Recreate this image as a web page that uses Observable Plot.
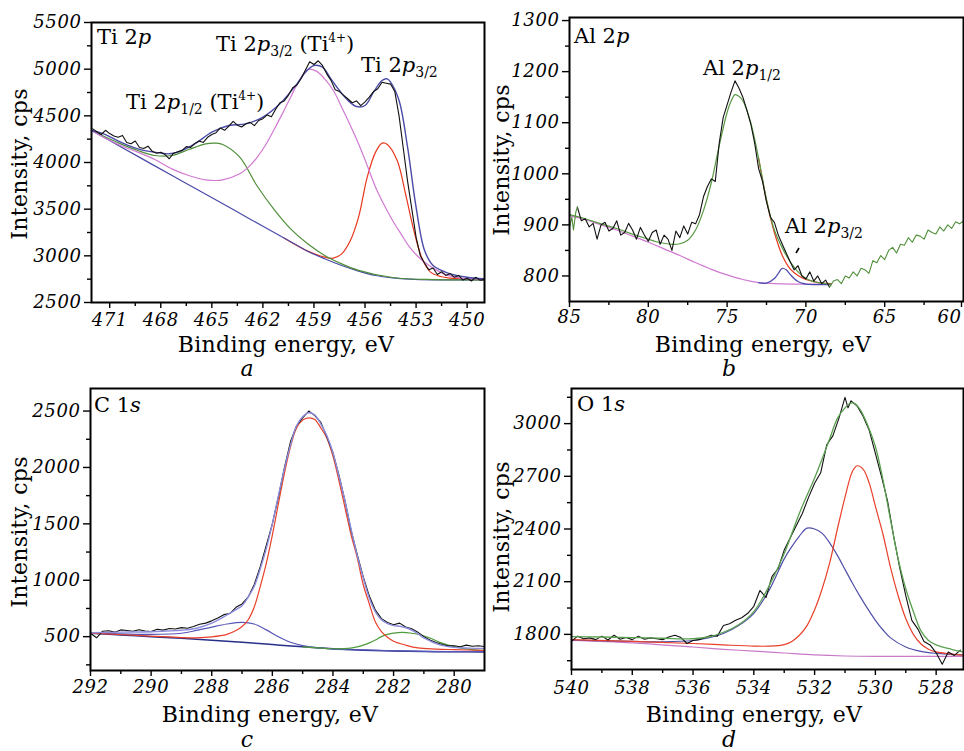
<!DOCTYPE html>
<html><head><meta charset="utf-8">
<script src="https://cdn.jsdelivr.net/npm/d3@7"></script>
<script src="https://cdn.jsdelivr.net/npm/@observablehq/plot@0.6"></script>
<style>
body{margin:0;background:#fff;}
#fig{position:relative;width:964px;height:751px;overflow:hidden;background:#fff}
#fig svg{position:absolute}
g[aria-label$="tick label"] text{letter-spacing:0.6px}
</style></head><body><div id="fig"></div>
<script>
// ---------- Panel a: Ti 2p ----------
const tiXTicks = [471,468,465,462,459,456,453,450];
const tiXMinor = [469.5,466.5,463.5,460.5,457.5,454.5,451.5];
const tiYTicks = [2500,3000,3500,4000,4500,5000,5500];
const tiYMinor = [2750,3250,3750,4250,4750,5250];
const tiRaw = [[472.0,4360],[471.75,4330],[471.5,4300],[471.25,4345],[471.0,4310],[470.75,4285],[470.5,4270],[470.25,4290],[470.0,4215],[469.75,4200],[469.5,4230],[469.25,4160],[469.0,4150],[468.75,4175],[468.5,4120],[468.25,4100],[468.0,4110],[467.75,4085],[467.5,4040],[467.25,4100],[467.0,4115],[466.75,4130],[466.5,4170],[466.25,4160],[466.0,4205],[465.75,4230],[465.5,4215],[465.25,4270],[465.0,4300],[464.75,4320],[464.5,4370],[464.25,4345],[464.0,4390],[463.75,4440],[463.5,4400],[463.25,4380],[463.0,4415],[462.75,4430],[462.5,4395],[462.25,4450],[462.0,4470],[461.75,4510],[461.5,4490],[461.25,4570],[461.0,4640],[460.75,4660],[460.5,4720],[460.25,4800],[460.0,4830],[459.75,4900],[459.5,4990],[459.25,5080],[459.0,5050],[458.75,5090],[458.5,5040],[458.25,4950],[458.0,4880],[457.75,4780],[457.5,4760],[457.25,4720],[457.0,4680],[456.75,4640],[456.5,4660],[456.25,4610],[456.0,4650],[455.75,4700],[455.5,4760],[455.25,4790],[455.0,4860],[454.75,4850],[454.5,4840],[454.25,4760],[454.0,4500],[453.75,4150],[453.5,3800],[453.25,3500],[453.0,3200],[452.75,3000],[452.5,2920],[452.25,2850],[452.0,2870],[451.75,2800],[451.5,2830],[451.25,2790],[451.0,2810],[450.75,2770],[450.5,2790],[450.25,2740],[450.0,2760],[449.75,2730],[449.5,2770],[449.25,2740],[449.0,2745]];
const tiFit = [[472.07,4343],[471.35,4307],[470.35,4218],[469.35,4146],[468,4100],[467.5,4093],[467,4111],[466,4200],[465,4325],[464,4396],[463,4414],[462,4486],[461,4629],[460,4843],[459.5,4968],[459,5039],[458.5,5021],[458,4896],[457.5,4771],[457,4664],[456.5,4600],[456,4611],[455.5,4754],[455,4879],[454.7,4896],[454.5,4861],[454,4664],[453.5,4164],[453,3521],[452.5,3057],[452,2896],[451.5,2843],[451,2807],[450,2771],[448.98,2754]];
const tiBg = [[472.07,4343],[470.54,4188],[468.59,3988],[466.63,3789],[464.67,3590],[462.72,3390],[460.76,3191],[459.37,3050],[458.37,2968],[457.37,2896],[456.38,2836],[455.38,2789],[454.38,2764],[453.38,2750],[451.95,2743],[448.98,2743]];
const tiGreen = [[472.07,4343],[470.35,4200],[469.35,4129],[468.35,4075],[467.35,4075],[466.36,4139],[465.36,4200],[464.77,4207],[464.36,4193],[463.36,4057],[462.36,3754],[461.37,3504],[460.37,3289],[459.37,3129],[458.37,3004],[457.37,2914],[456.38,2845],[454.38,2768],[451.95,2745],[448.98,2743]];
const tiPink = [[472.07,4343],[471.35,4271],[470.35,4182],[469.35,4111],[468.35,4032],[467.35,3932],[466.36,3861],[465.36,3814],[464.77,3807],[464.36,3814],[463.36,3879],[462.85,3950],[462.36,4050],[461.86,4182],[461.37,4343],[460.86,4521],[460.37,4700],[459.86,4879],[459.37,4996],[458.86,4979],[458.37,4896],[457.86,4771],[457.37,4593],[456.86,4396],[456.38,4200],[455.87,3968],[455.38,3736],[454.89,3550],[454.38,3379],[453.89,3236],[453.38,3093],[452.89,2993],[452.38,2914],[451.38,2807],[450.39,2764],[448.98,2750]];
const tiRed = [[460.76,3191],[459.37,3050],[458.37,2986],[457.86,2975],[457.37,3021],[456.86,3164],[456.38,3414],[455.87,3843],[455.38,4111],[454.99,4207],[454.69,4193],[454.11,4021],[453.62,3664],[453.13,3271],[452.64,2968],[452.15,2825],[451.56,2779],[450.97,2761],[450.0,2750],[448.98,2743]];

// ---------- Panel b: Al 2p ----------
const alXTicks = [85,80,75,70,65];
const alXLast = [60];
const alXMinor = [82.5,77.5,72.5,67.5,62.5];
const alYTicks = [800,900,1000,1100,1200,1300];
const alYMinor = [850,950,1050,1150,1250];
const alRaw = [[84.5,935],[84.25,908],[84.0,912],[83.75,896],[83.5,903],[83.25,872],[83.0,900],[82.75,905],[82.5,888],[82.25,893],[82.0,908],[81.75,880],[81.5,885],[81.25,903],[81.0,890],[80.75,872],[80.5,895],[80.25,880],[80.0,868],[79.75,885],[79.5,890],[79.25,862],[79.0,880],[78.75,872],[78.5,850],[78.25,888],[78.0,875],[77.75,898],[77.5,882],[77.25,905],[77.0,902],[76.75,920],[76.5,955],[76.25,975],[76.0,990],[75.75,985],[75.5,1060],[75.25,1110],[75.0,1135],[74.75,1160],[74.5,1182],[74.25,1168],[74.0,1150],[73.75,1125],[73.5,1098],[73.25,1060],[73.0,1010],[72.75,985],[72.5,945],[72.25,915],[72.0,905],[71.75,880],[71.5,862],[71.25,845],[71.0,828],[70.75,812],[70.5,820],[70.25,800],[70.0,794],[69.75,808],[69.5,790],[69.25,800],[69.0,785],[68.75,792],[68.5,778]];
const alRawLeft = [[85,895],[84.85,915],[84.75,890],[84.6,925],[84.5,935]];
const alRawRight = [[68.5,778],[68.25,790],[68.0,793],[67.75,785],[67.5,800],[67.25,796],[67.0,808],[66.75,800],[66.5,815],[66.25,812],[66.0,805],[65.75,830],[65.5,826],[65.25,840],[65.0,832],[64.75,850],[64.5,856],[64.25,845],[64.0,862],[63.75,860],[63.5,875],[63.25,866],[63.0,880],[62.75,878],[62.5,872],[62.25,890],[62.0,885],[61.75,882],[61.5,896],[61.25,888],[61.0,900],[60.75,893],[60.5,906],[60.25,902],[60.0,908]];
const alFit = [[85,920],[84,912],[83,902],[82,893],[81,882],[80,872],[79.5,867],[79,864],[78.5,862],[78,863],[77.5,870],[77,890],[76.5,928],[76,983],[75.5,1055],[75,1120],[74.75,1142],[74.5,1155],[74.25,1152],[74,1143],[73.5,1100],[73,1030],[72.5,950],[72,890],[71.5,855],[71,828],[70.5,808],[70,795],[69.5,789],[69,786],[68.4,784]];
const alBg = [[85,918],[84,910],[83,900],[82,890],[81,878],[80,866],[79,853],[78,840],[77,826],[76,813],[75,802],[74,793],[73,787],[72,785],[71,784],[70,784],[69,784],[68.4,784]];
const alRed = [[73,1030],[72.5,948],[72,885],[71.5,840],[71,814],[70.5,801],[70,793],[69.5,789],[69,786],[68.4,785]];
const alBlue = [[73,787],[72.5,786],[72,795],[71.75,805],[71.5,815],[71.25,812],[71,803],[70.75,795],[70.5,789],[70.25,786],[70,784],[69.5,783],[69,783],[68.4,783]];

// ---------- Panel c: C 1s ----------
const cXTicks = [292,290,288,286,284,282,280];
const cXMinor = [291,289,287,285,283,281];
const cYTicks = [500,1000,1500,2000,2500];
const cYMinor = [250,750,1250,1750,2250];
const cRaw = [[292.0,530],[291.8,490],[291.6,548],[291.4,552],[291.2,540],[291.0,560],[290.8,555],[290.6,548],[290.4,562],[290.2,550],[290.0,545],[289.8,565],[289.6,558],[289.4,572],[289.2,568],[289.0,580],[288.8,575],[288.6,590],[288.4,610],[288.2,620],[288.0,640],[287.8,665],[287.6,695],[287.4,705],[287.2,760],[287.0,790],[286.8,850],[286.6,960],[286.4,1120],[286.2,1310],[286.0,1500],[285.8,1740],[285.6,2000],[285.4,2230],[285.2,2370],[285.0,2440],[284.8,2500],[284.6,2460],[284.4,2400],[284.2,2270],[284.0,2130],[283.8,1930],[283.6,1700],[283.4,1440],[283.2,1230],[283.0,1030],[282.8,860],[282.6,735],[282.4,660],[282.2,625],[282.0,605],[281.8,620],[281.6,585],[281.4,570],[281.2,540],[281.0,500],[280.8,470],[280.6,448],[280.4,430],[280.2,418],[280.0,420],[279.8,410],[279.6,425],[279.4,415],[279.2,420],[279.0,412]];
const cFit = [[292,535],[291,540],[290,544],[289.5,550],[289,557],[288.5,575],[288,620],[287.5,692],[287.2,740],[287,775],[286.8,850],[286.6,944],[286.4,1100],[286.2,1280],[286,1500],[285.8,1750],[285.6,1990],[285.4,2200],[285.2,2370],[285,2450],[284.8,2485],[284.6,2465],[284.4,2385],[284.2,2280],[284,2130],[283.8,1920],[283.6,1700],[283.4,1450],[283.2,1220],[283,1020],[282.8,840],[282.6,720],[282.4,650],[282.2,615],[282,598],[281.75,590],[281.5,570],[281.25,535],[281,490],[280.5,430],[280,405],[279.5,398],[279.0,396]];
const cBg = [[292,530],[291,515],[290,500],[289,485],[288,468],[287,450],[286,430],[285,410],[284,393],[283,380],[282,372],[281,368],[280,366],[279.0,365]];
const cRed = [[292,532],[290,505],[289,492],[288.5,490],[288,498],[287.5,520],[287.2,555],[287,590],[286.8,648],[286.6,760],[286.4,944],[286.2,1150],[286,1400],[285.8,1680],[285.6,1950],[285.4,2186],[285.2,2350],[285,2420],[284.8,2440],[284.6,2425],[284.4,2350],[284.2,2260],[284,2100],[283.8,1880],[283.6,1640],[283.4,1400],[283.2,1200],[283,960],[282.8,790],[282.6,630],[282.4,545],[282.2,495],[282,460],[281.6,425],[281.2,400],[280.6,390],[280,385],[279.0,378]];
const cBlue = [[292,532],[291,525],[290,520],[289,530],[288.5,555],[288,585],[287.5,612],[287,627],[286.6,612],[286.2,560],[285.8,500],[285.4,450],[285,420],[284.5,400],[284,390],[283,382],[282,375],[281,370],[280,368],[279.0,367]];
const cGreen = [[285,410],[284,393],[283.5,396],[283.2,410],[283,425],[282.8,445],[282.6,470],[282.4,500],[282.2,520],[282,532],[281.7,538],[281.4,530],[281.1,515],[280.8,488],[280.5,452],[280.2,425],[279.8,400],[279.4,385],[279.0,377]];

// ---------- Panel d: O 1s ----------
const oXTicks = [540,538,536,534,532,530,528];
const oXMinor = [539,537,535,533,531,529];
const oYTicks = [1800,2100,2400,2700,3000];
const oYMinor = [1650,1950,2250,2550,2850,3150];
const oRaw = [[540,1760],[539.8,1790],[539.6,1775],[539.4,1780],[539.2,1770],[539.0,1790],[538.8,1768],[538.6,1795],[538.4,1772],[538.2,1782],[538.0,1770],[537.8,1790],[537.6,1772],[537.4,1780],[537.2,1775],[537.0,1770],[536.8,1785],[536.6,1795],[536.4,1782],[536.2,1748],[536.0,1765],[535.8,1770],[535.6,1782],[535.4,1795],[535.2,1790],[535.0,1850],[534.8,1860],[534.6,1880],[534.4,1895],[534.2,1920],[534.0,1960],[533.8,2050],[533.6,2010],[533.4,2130],[533.2,2175],[533.0,2280],[532.8,2350],[532.6,2420],[532.4,2490],[532.2,2580],[532.0,2660],[531.8,2720],[531.6,2880],[531.4,2930],[531.2,3030],[531.0,3150],[530.9,3090],[530.8,3130],[530.6,3100],[530.4,3040],[530.2,2960],[530.0,2830],[529.8,2700],[529.6,2560],[529.4,2360],[529.2,2180],[529.0,2020],[528.8,1880],[528.6,1830],[528.4,1760],[528.2,1740],[528.0,1695],[527.8,1630],[527.6,1700],[527.4,1680],[527.2,1710]];
const oFit = [[540,1787],[539,1785],[538,1782],[537,1778],[536,1775],[535.5,1785],[535,1812],[534.5,1855],[534,1930],[533.5,2075],[533,2260],[532.5,2490],[532,2690],[531.75,2800],[531.5,2915],[531.25,3030],[531,3090],[530.85,3113],[530.7,3117],[530.5,3080],[530.25,2990],[530,2870],[529.75,2680],[529.5,2450],[529.25,2230],[529,2060],[528.75,1930],[528.5,1820],[528.25,1765],[528,1740],[527.5,1715],[527.1,1700]];
const oBg = [[540,1766],[538,1752],[536,1728],[535,1715],[534,1705],[533,1694],[532,1683],[531,1677],[530,1675],[528,1675],[527.1,1675]];
const oRed = [[540,1770],[538,1760],[536,1748],[535,1740],[534,1733],[533.5,1733],[533,1742],[532.75,1760],[532.5,1795],[532.25,1850],[532,1940],[531.75,2060],[531.5,2210],[531.25,2400],[531,2580],[530.75,2730],[530.6,2760],[530.4,2740],[530.2,2660],[530,2530],[529.75,2370],[529.5,2180],[529.25,2020],[529,1890],[528.75,1800],[528.5,1745],[528.25,1715],[528,1700],[527.5,1688],[527.1,1682]];
const oBlue = [[540,1768],[538,1760],[537,1758],[536,1765],[535.5,1780],[535,1805],[534.5,1850],[534,1920],[533.5,2050],[533,2230],[532.75,2300],[532.5,2360],[532.25,2405],[532,2400],[531.75,2375],[531.5,2320],[531.25,2250],[531,2170],[530.75,2090],[530.5,2015],[530.25,1945],[530,1880],[529.75,1825],[529.5,1780],[529,1728],[528.5,1703],[528,1692],[527.1,1683]];

const fig = document.getElementById("fig");
const FONT = "DejaVu Serif";

function panel(cfg) {
  const ax = {tickFormat: d => String(d), fontStyle: "italic", label: null, strokeWidth: 1.4};
  const marks = [
    ...cfg.series.map(s => Plot.line(s.data, {x: d => d[0], y: d => d[1], stroke: s.color, strokeWidth: s.w || 1.2, curve: s.fit ? "catmull-rom" : "linear", clip: true})),
    Plot.axisX({...ax, ticks: cfg.xMin, tickSize: 4, tickFormat: () => ""}),
    Plot.axisX({...ax, ticks: cfg.xMaj, tickSize: 6, tickPadding: cfg.xPad}),
    Plot.axisY({...ax, ticks: cfg.yMin, tickSize: 4, tickFormat: () => ""}),
    Plot.axisY({...ax, ticks: cfg.yMaj, tickSize: 7, tickPadding: cfg.yPad}),
    Plot.frame({stroke: "black", strokeWidth: 2})
  ];
  if (cfg.xLast) marks.push(Plot.axisX({...ax, ticks: cfg.xLast, tickSize: 6, tickPadding: cfg.xPad, textAnchor: "end", dx: -2}));
  const svg = Plot.plot({
    width: cfg.width, height: cfg.height,
    marginLeft: cfg.mL, marginRight: cfg.mR, marginTop: cfg.mT, marginBottom: cfg.mB,
    style: {fontFamily: FONT, fontSize: "18px", background: "transparent", color: "black", overflow: "visible"},
    x: {domain: cfg.xDom},
    y: {domain: cfg.yDom},
    marks
  });
  svg.style.left = cfg.left + "px";
  svg.style.top = cfg.top + "px";
  fig.appendChild(svg);
}

panel({left: 0, top: 0, width: 486, height: 380, mL: 91, mR: 2, mT: 22, mB: 78,
  xDom: [472.07, 448.98], yDom: [2500, 5500], xMaj: tiXTicks, xMin: tiXMinor, yMaj: tiYTicks, yMin: tiYMinor, xPad: 5, yPad: 3,
  series: [
    {data: tiRed, color: "#e8381e", fit: true},
    {data: tiBg, color: "#4a4aa8", fit: true},
    {data: tiGreen, color: "#4f8f3a", fit: true},
    {data: tiPink, color: "#d27ad2", fit: true},
    {data: tiFit, color: "#4b4ba8", fit: true, w: 1.4},
    {data: tiRaw, color: "#111", w: 1.1}
  ]});

panel({left: 482, top: 0, width: 482, height: 380, mL: 87, mR: 1, mT: 17, mB: 79,
  xDom: [85, 60], yDom: [750, 1306], xMaj: alXTicks, xLast: alXLast, xMin: alXMinor, yMaj: alYTicks, yMin: alYMinor, xPad: 3, yPad: 3,
  series: [
    {data: alBg, color: "#d07ad0", fit: true},
    {data: alBlue, color: "#4a4ab0", fit: true},
    {data: alRed, color: "#e8381e", fit: true},
    {data: alFit, color: "#5a9a45", fit: true},
    {data: alRaw, color: "#111", w: 1.1},
    {data: alRawLeft, color: "#4f8f3a", w: 1.1},
    {data: alRawRight, color: "#4f8f3a", w: 1.1}
  ]});

panel({left: 0, top: 380, width: 486, height: 371, mL: 90, mR: 2, mT: 8, mB: 81,
  xDom: [292, 279.0], yDom: [200, 2700], xMaj: cXTicks, xMin: cXMinor, yMaj: cYTicks, yMin: cYMinor, xPad: 4, yPad: 3,
  series: [
    {data: cBg, color: "#26308a", fit: true, w: 1.5},
    {data: cBlue, color: "#5656b8", fit: true},
    {data: cGreen, color: "#4e9a3c", fit: true},
    {data: cRed, color: "#e8402a", fit: true},
    {data: cRaw, color: "#111", w: 1.1},
    {data: cFit, color: "#8c8cdc", fit: true, w: 1.4}
  ]});

panel({left: 482, top: 380, width: 482, height: 371, mL: 89, mR: 1, mT: 8, mB: 82,
  xDom: [540, 527.1], yDom: [1600, 3200], xMaj: oXTicks, xMin: oXMinor, yMaj: oYTicks, yMin: oYMinor, xPad: 6, yPad: 3,
  series: [
    {data: oBg, color: "#c87ac8", fit: true},
    {data: oBlue, color: "#5050a8", fit: true},
    {data: oRed, color: "#e8402a", fit: true},
    {data: oRaw, color: "#111", w: 1.1},
    {data: oFit, color: "#5aa050", fit: true, w: 1.3}
  ]});

// ---------- text overlay ----------
const sub = (t) => `<tspan font-size="14" dy="5">${t}</tspan>`;
const sup = `<tspan dy="-5"> (Ti</tspan><tspan font-size="12" dy="-9">4+</tspan><tspan dy="9">)</tspan>`;
const overlay = `<svg width="964" height="751" style="left:0;top:0;pointer-events:none" font-family="${FONT}" fill="black">
<g font-size="21">
<text x="97" y="44">Ti 2<tspan font-style="italic">p</tspan></text>
<text x="126" y="109">Ti 2<tspan font-style="italic">p</tspan>${sub("1/2")}${sup}</text>
<text x="216" y="51">Ti 2<tspan font-style="italic">p</tspan>${sub("3/2")}${sup}</text>
<text x="361" y="72">Ti 2<tspan font-style="italic">p</tspan>${sub("3/2")}</text>
<text x="574" y="43">Al 2<tspan font-style="italic">p</tspan></text>
<text x="703" y="75">Al 2<tspan font-style="italic">p</tspan>${sub("1/2")}</text>
<text x="785" y="233">Al 2<tspan font-style="italic">p</tspan>${sub("3/2")}</text>
<text x="94" y="412">C 1<tspan font-style="italic">s</tspan></text>
<text x="577" y="411">O 1<tspan font-style="italic">s</tspan></text>
</g>
<line x1="796" y1="253" x2="799" y2="248" stroke="black" stroke-width="1.6"/>
<g font-size="22" text-anchor="middle" letter-spacing="0.3">
<text x="286" y="352">Binding energy, eV</text>
<text x="763" y="352">Binding energy, eV</text>
<text x="270" y="722">Binding energy, eV</text>
<text x="754" y="722">Binding energy, eV</text>
<text transform="translate(27,164) rotate(-90)">Intensity, cps</text>
<text transform="translate(509,160) rotate(-90)">Intensity, cps</text>
<text transform="translate(27,532) rotate(-90)">Intensity, cps</text>
<text transform="translate(509,537) rotate(-90)">Intensity, cps</text>
</g>
<g font-size="22" font-style="italic" text-anchor="middle">
<text x="247" y="376">a</text>
<text x="729" y="376">b</text>
<text x="247" y="747">c</text>
<text x="729" y="747">d</text>
</g>
</svg>`;
fig.insertAdjacentHTML("beforeend", overlay);
</script>
</body></html>
